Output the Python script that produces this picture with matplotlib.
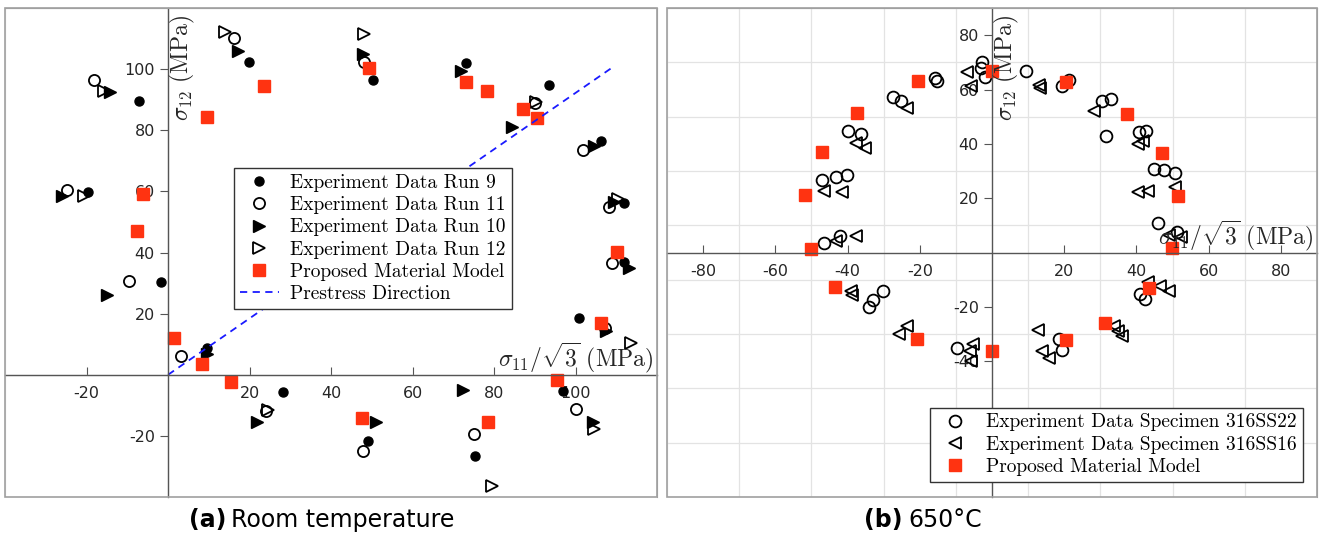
import numpy as np
import matplotlib.pyplot as plt
from matplotlib.patches import Rectangle

plt.rcParams['mathtext.fontset'] = 'cm'
plt.rcParams['axes.unicode_minus'] = False

# ---- (a) room temperature data: (sigma11/sqrt3, sigma12) ----
run9_x = [-7.1, 19.9, 50.2, 73.0, 93.5, 106.2, 111.9, 111.9, 100.9, -19.6, -1.8, 9.5, 28.3, 96.8, 49.0, 75.3]
run9_y = [89.7, 102.3, 96.6, 102.1, 94.8, 76.5, 56.2, 37.0, 18.5, 59.7, 30.5, 8.7, -5.7, -5.3, -21.7, -26.5]

run11_x = [-18.1, 16.3, 48.1, 90.1, 101.7, 108.1, 109.0, 107.2, -24.9, -9.5, 3.2, 24.0, 100.0, 47.9, 75.1]
run11_y = [96.4, 110.2, 102.4, 89.0, 73.4, 54.9, 36.7, 15.2, 60.3, 30.7, 6.2, -11.8, -11.3, -25.0, -19.4]

run10_x = [-14.2, 17.2, 47.9, 71.9, 84.3, 104.4, 109.5, 113.0, 107.5, -26.1, -14.9, 9.5, 21.8, 51.0, 72.3, 104.2]
run10_y = [92.6, 105.9, 105.1, 99.3, 81.2, 74.7, 56.5, 34.9, 14.4, 58.4, 26.2, 6.8, -15.6, -15.4, -4.9, -15.4]

run12_x = [-15.6, 14.0, 48.1, 90.4, 110.3, 113.6, -20.5, 24.5, 104.5, 79.4]
run12_y = [92.9, 112.0, 111.4, 89.4, 57.5, 10.3, 58.4, -11.4, -17.6, -36.3]

model_a_x = [9.5, 23.6, 49.3, 73.0, 78.2, 87.0, 90.5, -6.1, -7.6, 110.1, 106.3, 1.5, 8.3, 15.5, 95.4, 47.7, 78.5]
model_a_y = [84.5, 94.5, 100.4, 95.8, 92.9, 87.0, 83.9, 59.0, 47.0, 40.2, 17.1, 11.9, 3.6, -2.4, -1.8, -14.3, -15.3]

prestress_x = [0, 109.5]
prestress_y = [0, 101.0]

# ---- (b) 650C data ----
ss22_x = [-2.8, -3.0, -1.9, -15.7, -15.3, -27.5, -25.2, -40.0, -36.3, -47.0, -43.2, -40.1, -46.4, -42.0,
          9.5, 19.4, 21.3, 30.5, 33.0, 31.6, 40.6, 42.7, 44.8, 47.7, 50.6, 46.1, 51.2,
          -30.3, -32.9, -34.0, -9.6, 18.5, 19.4, 41.1, 42.5]
ss22_y = [70.3, 68.1, 64.6, 64.2, 63.2, 57.1, 55.6, 44.6, 43.8, 26.8, 27.8, 28.7, 3.6, 6.0,
          66.7, 61.4, 63.6, 55.6, 56.5, 43.0, 44.4, 44.9, 30.8, 30.3, 29.3, 10.9, 7.6,
          -14.0, -17.3, -20.0, -35.0, -32.0, -35.7, -15.2, -17.0]

ss16_x = [-7.0, -5.7, -23.6, -37.7, -35.1, -46.6, -41.5, -43.2, -37.7,
          13.0, 13.2, 28.2, 40.4, 41.7, 40.3, 43.2, 50.7, 48.9, 52.4,
          -39.0, -38.8, -23.4, -25.7, -5.2, -6.1, -5.7,
          12.8, 13.9, 15.7, 33.7, 34.9, 36.0, 43.2, 46.6, 48.9]
ss16_y = [66.3, 61.4, 53.2, 40.3, 38.5, 22.8, 22.2, 4.2, 6.0,
          61.5, 60.5, 52.2, 40.0, 41.2, 22.2, 22.5, 24.1, 6.6, 5.8,
          -14.2, -15.6, -27.1, -29.9, -33.5, -36.3, -40.0,
          -28.6, -36.3, -39.0, -27.1, -28.9, -30.8, -10.8, -12.4, -14.2]

model_b_x = [0.0, -20.6, -37.4, -47.0, -51.7, -50.1, 20.6, 37.4, 47.0, 51.4, 49.8,
             -43.6, -20.9, -0.1, 20.5, 31.2, 43.4]
model_b_y = [67.0, 63.0, 51.4, 37.0, 21.1, 1.2, 62.8, 51.1, 36.7, 20.7, 1.7,
             -12.6, -32.0, -36.3, -32.2, -26.1, -13.0]

red = '#ff3311'
txt = '#262626'


def origin_axes(ax, lim, ticks):
    ax.set_xlim(lim)
    ax.set_ylim(lim)
    ax.set_xticks(ticks)
    ax.set_yticks(ticks)
    minor = np.arange(lim[0], lim[1] + 1, 20)
    ax.set_xticks(minor, minor=True)
    ax.set_yticks(minor, minor=True)
    ax.grid(True, which='minor', color='#e3e3e3', lw=0.9)
    ax.set_axisbelow(True)
    ax.spines['left'].set_position(('data', 0))
    ax.spines['bottom'].set_position(('data', 0))
    for s in ['left', 'bottom']:
        ax.spines[s].set_color('#555555')
        ax.spines[s].set_linewidth(1.0)
    for s in ['top', 'right']:
        ax.spines[s].set_color('#a0a0a0')
    ax.add_patch(Rectangle((0, 0), 1, 1, transform=ax.transAxes, fill=False,
                           ec='#a0a0a0', lw=1.2, clip_on=False, zorder=5))
    ax.tick_params(axis='x', which='major', direction='in', length=6, color='#555555',
                   labelsize=11.5, labelcolor=txt, pad=8)
    ax.tick_params(axis='y', which='major', direction='out', length=6, color='#555555',
                   labelsize=11.5, labelcolor=txt)
    ax.tick_params(which='minor', length=0)
    ax.text(0.995, 0.0, r'$\sigma_{11}/\sqrt{3}\ \mathrm{(MPa)}$', transform=ax.get_yaxis_transform(),
            ha='right', va='bottom', fontsize=17, color=txt)
    ax.text(0.005, 0.985, r'$\sigma_{12}\ \mathrm{(MPa)}$', transform=ax.get_xaxis_transform(),
            ha='left', va='top', rotation=90, fontsize=17, color=txt)


fig = plt.figure(figsize=(13.2, 5.35), dpi=100)
ax1 = fig.add_axes([0.0038, 0.071, 0.494, 0.914])
ax2 = fig.add_axes([0.5053, 0.071, 0.4924, 0.914])

leg_kw = dict(prop={'family': 'cmr10', 'size': 14}, frameon=True, fancybox=False,
              edgecolor='#333333', framealpha=1, handlelength=2.0, labelspacing=0.22,
              borderpad=0.3, handletextpad=0.6, borderaxespad=0)

origin_axes(ax1, (-40, 120), [-20, 20, 40, 60, 80, 100])
ax1.plot(run9_x, run9_y, 'o', color='k', ms=6.5, ls='none', label='Experiment Data Run 9')
ax1.plot(run11_x, run11_y, 'o', mfc='none', mec='k', mew=1.3, ms=8, ls='none', label='Experiment Data Run 11')
ax1.plot(run10_x, run10_y, '>', color='k', ms=8, ls='none', label='Experiment Data Run 10')
ax1.plot(run12_x, run12_y, '>', mfc='none', mec='k', mew=1.3, ms=8, ls='none', label='Experiment Data Run 12')
ax1.plot(model_a_x, model_a_y, 's', color=red, ms=9, ls='none', label='Proposed Material Model')
ax1.plot(prestress_x, prestress_y, '--', color='#1a1aff', lw=1.3, dashes=(4, 3), label='Prestress Direction')
leg1 = ax1.legend(loc='upper left', bbox_to_anchor=(0.351, 0.673), **leg_kw)
leg1.get_frame().set_linewidth(1.0)
leg1.set_zorder(10)

origin_axes(ax2, (-90, 90), [-80, -60, -40, -20, 20, 40, 60, 80])
ax2.plot(ss22_x, ss22_y, 'o', mfc='none', mec='k', mew=1.3, ms=8.5, ls='none',
         label='Experiment Data Specimen 316SS22')
ax2.plot(ss16_x, ss16_y, '<', mfc='none', mec='k', mew=1.3, ms=9, ls='none',
         label='Experiment Data Specimen 316SS16')
ax2.plot(model_b_x, model_b_y, 's', color=red, ms=9, ls='none', label='Proposed Material Model')
leg2 = ax2.legend(loc='lower right', bbox_to_anchor=(0.978, 0.031), **leg_kw)
leg2.get_frame().set_linewidth(1.0)
leg2.set_zorder(10)

# captions
cap_y = 1 - 520 / 535
fig.text(226 / 1320, cap_y, '(a)', ha='right', va='center', fontsize=17, weight='bold')
fig.text(231 / 1320, cap_y, 'Room temperature', ha='left', va='center', fontsize=17)
fig.text(903 / 1320, cap_y, '(b)', ha='right', va='center', fontsize=17, weight='bold')
fig.text(908 / 1320, cap_y, '650°C', ha='left', va='center', fontsize=17)

fig.savefig('out.png', dpi=100)
